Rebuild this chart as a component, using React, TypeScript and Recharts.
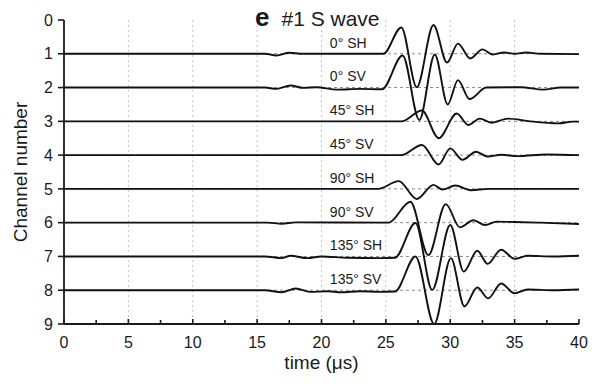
import React from 'react';
import { LineChart, Line, XAxis, YAxis, CartesianGrid, ReferenceDot } from 'recharts';

// ---------------- data ----------------
const CHANNELS = [1, 2, 3, 4, 5, 6, 7, 8];
const TRACE_LABELS = ['0° SH', '0° SV', '45° SH', '45° SV', '90° SH', '90° SV', '135° SH', '135° SV'];
const X_TICKS = [0, 2.5, 5, 7.5, 10, 12.5, 15, 17.5, 20, 22.5, 25, 27.5, 30, 32.5, 35, 37.5, 40];
const Y_TICKS = [0, 1, 2, 3, 4, 5, 6, 7, 8, 9];
const GRID_X = [5, 10, 15, 20, 25, 30, 35];
const GRID_Y = [1, 2, 3, 4, 5, 6, 7, 8];

// [time (µs), amplitude in channel units]
const trace0SH: [number, number][] = [
  [0, 0], [15.6, 0], [16.5, -0.05], [17.5, 0.03], [18.5, 0], [24.8, 0], [26.2, 0.78], [27.4, -0.99],
  [28.7, 0.85], [29.75, -0.26], [30.6, 0.3], [31.55, -0.14], [32.5, 0.13], [33.3, -0.02], [34.2, 0.04],
  [35, 0], [35.9, 0.04], [37, 0], [40, -0.01],
];
const trace0SV: [number, number][] = [
  [0, 0], [15.6, 0], [16.5, -0.04], [17.6, 0.06], [18.6, -0.01], [19.6, 0.01], [21.2, -0.06], [23, -0.04],
  [24.7, -0.05], [26.3, 0.95], [27.6, -0.96], [28.8, 0.98], [29.8, -0.5], [30.6, 0.22], [31.5, -0.34],
  [32.8, 0], [35.5, 0.01], [37.2, -0.06], [38.6, 0], [40, 0],
];
const trace45SH: [number, number][] = [
  [0, 0], [26.2, 0], [27.8, 0.32], [29.1, -0.5], [30.5, 0.23], [31.4, -0.11], [32.3, 0.08], [33.2, -0.04],
  [34.5, 0.08], [36.2, 0], [38.4, -0.06], [39.5, -0.01], [40, -0.01],
];
const trace45SV: [number, number][] = [
  [0, 0], [26.2, 0], [27.8, 0.3], [29.1, -0.28], [30, 0.2], [30.95, -0.14], [32, 0.1], [32.9, -0.04],
  [34, 0.01], [35.2, -0.03], [37.5, 0.02], [40, 0],
];
const trace90SH: [number, number][] = [
  [0, 0], [24.4, 0], [26, 0.23], [27.4, -0.3], [28.7, 0.12], [29.4, -0.02], [30.4, 0.1], [31.6, -0.04],
  [33, 0], [40, 0],
];
const trace90SV: [number, number][] = [
  [0, 0], [15.8, 0], [16.9, -0.03], [18, 0.01], [25.2, 0], [26.9, 0.62], [28.3, -0.96], [29.65, 0.55],
  [30.75, -0.14], [31.8, 0.07], [32.7, -0.07], [33.6, 0.03], [35, 0.02], [37, 0], [40, -0.04],
];
const trace135SH: [number, number][] = [
  [0, 0], [15.6, 0], [16.9, -0.05], [17.6, 0.02], [18.9, -0.05], [20, 0], [22, -0.04], [24.5, -0.05],
  [25.7, -0.04], [27.3, 0.99], [28.6, -0.99], [30, 0.93], [31.05, -0.45], [32.1, 0.17], [32.9, -0.22],
  [33.95, 0.2], [35, -0.07], [36, 0.02], [38, 0], [40, 0.02],
];
const trace135SV: [number, number][] = [
  [0, 0], [15.6, 0], [16.9, -0.06], [18, 0.05], [19.1, -0.05], [20.5, -0.03], [21.5, -0.06], [23, -0.03],
  [24.5, -0.05], [25.7, -0.04], [27.3, 1.0], [28.75, -1.0], [30.05, 0.95], [31.1, -0.48], [32.1, 0.08],
  [32.95, -0.24], [33.95, 0.2], [35, -0.09], [36, 0.02], [38, 0], [40, 0.02],
];
const TRACES = [trace0SH, trace0SV, trace45SH, trace45SV, trace90SH, trace90SV, trace135SH, trace135SV];

// label anchor (data space)
const LABEL_T = 20.65;
const LABEL_LIFT = 0.18;

// ---------------- styling ----------------
const FONT = '"Liberation Sans", Arial, Helvetica, sans-serif';
const INK = '#1a1a1a';

const XTick = (props: any) => {
  const { x, y, payload } = props;
  const major = payload.value % 5 === 0;
  return (
    <g>
      <line x1={x} x2={x} y1={y} y2={y - (major ? 5 : 4)} stroke={INK} strokeWidth={1.6} />
      {major && (
        <text x={x} y={y + 24} textAnchor="middle" fontSize={16} fontFamily={FONT} fill={INK}>
          {payload.value}
        </text>
      )}
    </g>
  );
};

const YLabel = (p: any) => {
  const vb = p.viewBox;
  const cx = vb.x + 27;
  const cy = vb.y + vb.height / 2;
  return (
    <text x={cx} y={cy} transform={`rotate(-90 ${cx} ${cy})`} textAnchor="middle" fontSize={19} fontFamily={FONT} fill={INK}>
      Channel number
    </text>
  );
};

const XLabel = (p: any) => {
  const vb = p.viewBox;
  return (
    <text x={vb.x + vb.width / 2} y={vb.y + 45} textAnchor="middle" fontSize={19} fontFamily={FONT} fill={INK}>
      time (μs)
    </text>
  );
};

export default function App() {
  return (
    <div style={{ position: 'absolute', left: 0, top: 0, width: 598, height: 387, background: '#fff' }}>
      <LineChart width={598} height={387} margin={{ top: 20, right: 19, bottom: 0, left: 0 }}>
        <CartesianGrid horizontal={false} verticalValues={GRID_X} stroke="#c4c4c4" strokeDasharray="2 3" />
        <CartesianGrid vertical={false} horizontalValues={GRID_Y} stroke="#8a8a8a" strokeDasharray="3 3" />
        <XAxis
          dataKey="t"
          type="number"
          domain={[0, 40]}
          ticks={X_TICKS}
          interval={0}
          height={63}
          tickSize={0}
          tickMargin={0}
          tickLine={false}
          axisLine={{ stroke: INK, strokeWidth: 1.8 }}
          tick={<XTick />}
          label={{ content: XLabel }}
        />
        <YAxis
          type="number"
          reversed
          domain={[0, 9]}
          ticks={Y_TICKS}
          interval={0}
          width={64}
          tickSize={6}
          tickMargin={5}
          tickLine={{ stroke: INK, strokeWidth: 1.6 }}
          axisLine={{ stroke: INK, strokeWidth: 1.8 }}
          tick={{ fontSize: 16, fill: INK, fontFamily: FONT }}
          label={{ content: YLabel }}
        />
        {TRACES.map((tr, i) => (
          <Line
            key={TRACE_LABELS[i]}
            data={tr.map(([t, a]) => ({ t, y: CHANNELS[i] - a }))}
            dataKey="y"
            type="monotone"
            stroke="#111"
            strokeWidth={1.9}
            dot={false}
            activeDot={false}
            isAnimationActive={false}
          />
        ))}
        {TRACE_LABELS.map((lab, i) => (
          <ReferenceDot
            key={'lab' + i}
            x={LABEL_T}
            y={CHANNELS[i] - LABEL_LIFT}
            r={0}
            fill="none"
            stroke="none"
            ifOverflow="visible"
            label={{
              content: (p: any) => (
                <text x={p.viewBox.x} y={p.viewBox.y} fontSize={14} fontFamily={FONT} fill={INK}>
                  {lab}
                </text>
              ),
            }}
          />
        ))}
      </LineChart>
      <svg width={598} height={387} style={{ position: 'absolute', left: 0, top: 0, pointerEvents: 'none' }}>
        <text x={255} y={26} fontFamily={FONT} fill={INK}>
          <tspan fontSize={26} fontWeight="bold">e</tspan>
          <tspan fontSize={21} dx={12}>#1 S wave</tspan>
        </text>
      </svg>
    </div>
  );
}
